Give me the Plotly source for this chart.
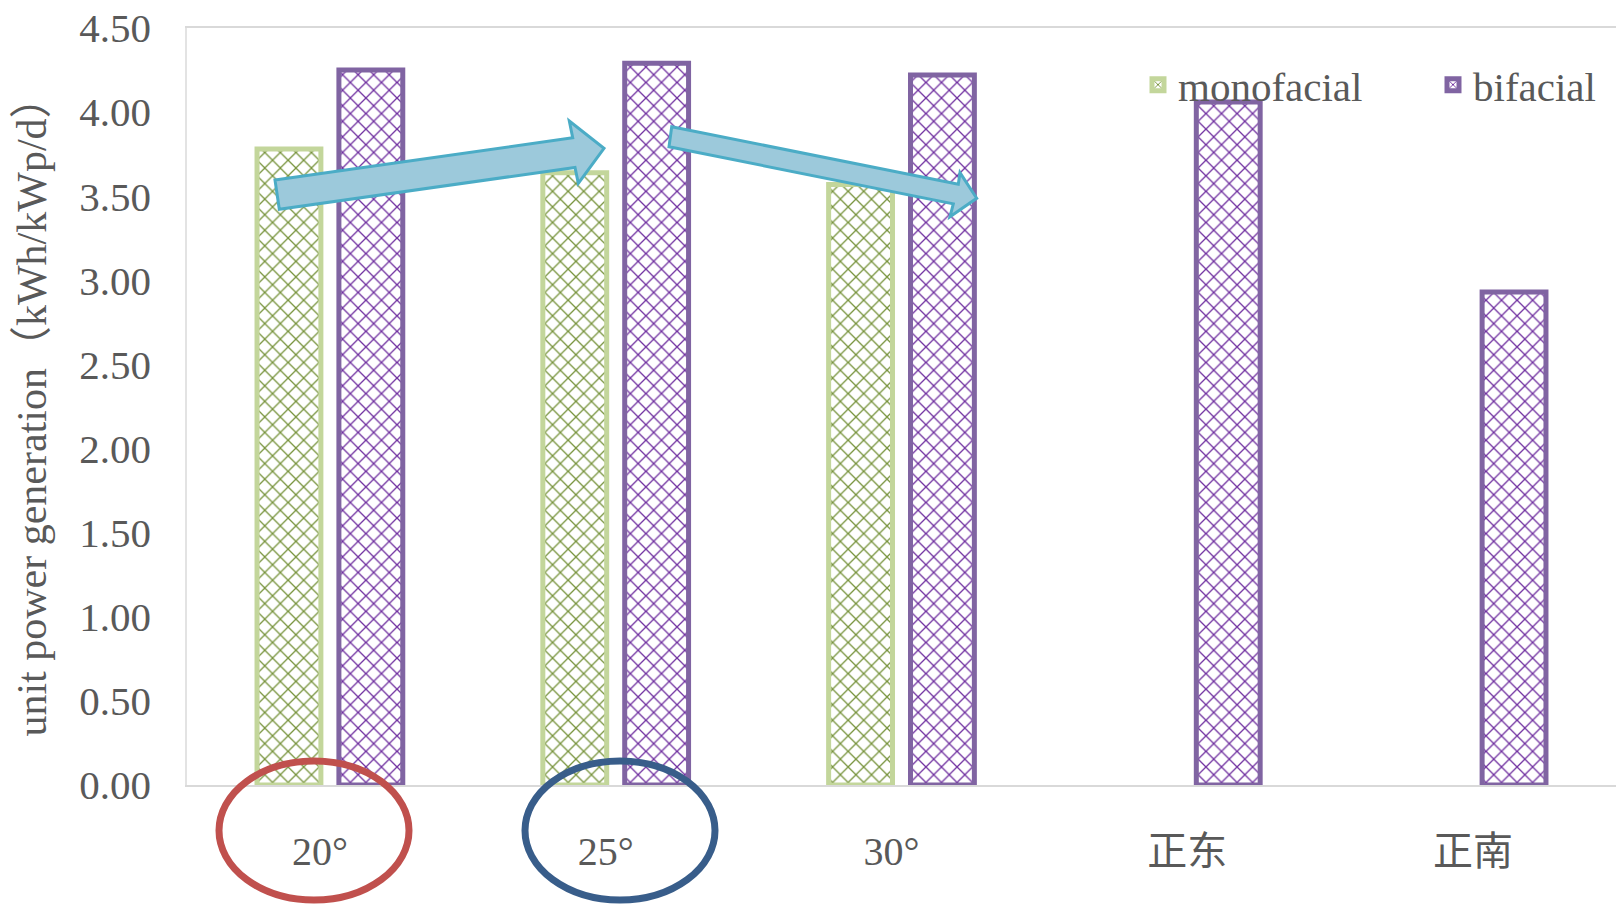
import plotly.graph_objects as go

categories = ["20°\u2002", "25°\u2002", "30°\u2002", "正东", "正南"]
monofacial = [3.78, 3.64, 3.57, None, None]
bifacial = [4.25, 4.29, 4.22, 4.06, 2.93]
y_ticks = [0, 0.5, 1.0, 1.5, 2.0, 2.5, 3.0, 3.5, 4.0, 4.5]

W, H = 1616, 904
ML, MR, MT, MB = 187, 0, 28, 119
PW, PH = W - ML - MR, H - MT - MB

FONT = "Liberation Serif, 'Times New Roman', 'Noto Sans CJK SC', serif"
GREY = "#595959"


def px(x):
    return (x - ML) / PW


def py(y):
    return (H - MB - y) / PH


def poly(points):
    d = "M " + " L ".join(f"{px(x):.5f},{py(y):.5f}" for x, y in points) + " Z"
    return d


fig = go.Figure()
fig.add_trace(go.Bar(
    name="monofacial", x=categories, y=monofacial,
    marker=dict(color="white",
                line=dict(color="#C3D69B", width=5),
                pattern=dict(shape="x", fgcolor="#77933C", bgcolor="white",
                             size=11, solidity=0.22, fillmode="replace")),
))
fig.add_trace(go.Bar(
    name="bifacial", x=categories, y=bifacial,
    marker=dict(color="white",
                line=dict(color="#8064A2", width=5),
                pattern=dict(shape="x", fgcolor="#7030A0", bgcolor="white",
                             size=11, solidity=0.22, fillmode="replace")),
))

arrow1 = [(275, 180), (572.7, 137.8), (569.3, 121), (604, 148.3),
          (578.3, 183.3), (575, 167.4), (279.3, 209.3)]
arrow2 = [(671.7, 126.7), (958.3, 184.3), (960, 172.7), (976.7, 198.3),
          (950, 216.7), (953.3, 203.9), (669, 146.7)]

shapes = []
for pts in (arrow1, arrow2):
    shapes.append(dict(type="path", xref="paper", yref="paper", path=poly(pts),
                       fillcolor="#9CC9DB", line=dict(color="#4BACC6", width=3),
                       layer="above"))
for (x0, x1, col) in ((219, 409, "#C0504D"), (525, 715, "#385D8A")):
    shapes.append(dict(type="circle", xref="paper", yref="paper",
                       x0=px(x0), x1=px(x1), y0=py(900), y1=py(761),
                       line=dict(color=col, width=7), layer="above"))

fig.update_layout(
    width=W, height=H,
    margin=dict(l=ML, r=MR, t=MT, b=MB, autoexpand=False),
    paper_bgcolor="white", plot_bgcolor="white",
    barmode="group", bargap=0.427, bargroupgap=0.22,
    font=dict(family=FONT, color=GREY, size=40),
    showlegend=True,
    legend=dict(orientation="h", x=px(1138), y=py(85), xanchor="left", yanchor="middle",
                font=dict(family=FONT, size=41, color=GREY),
                bgcolor="rgba(0,0,0,0)", entrywidth=250, itemwidth=30),
    shapes=shapes,
)
fig.update_xaxes(
    showgrid=False, showline=True, linecolor="#D9D9D9", linewidth=1.5, mirror=True,
    ticks="", tickfont=dict(family=FONT, size=40, color=GREY), ticklabelstandoff=30,
)
fig.update_yaxes(
    range=[0, 4.5], tickvals=y_ticks, tickformat=".2f", showgrid=False,
    showline=True, linecolor="#E3E3E3", linewidth=1.5, mirror=True, zeroline=False,
    ticks="", tickfont=dict(family=FONT, size=41, color=GREY), ticklabelstandoff=26,
    title=dict(text="unit power generation（kWh/kWp/d）",
               font=dict(family=FONT, size=42, color=GREY), standoff=20),
)

fig.write_html("out.html")
